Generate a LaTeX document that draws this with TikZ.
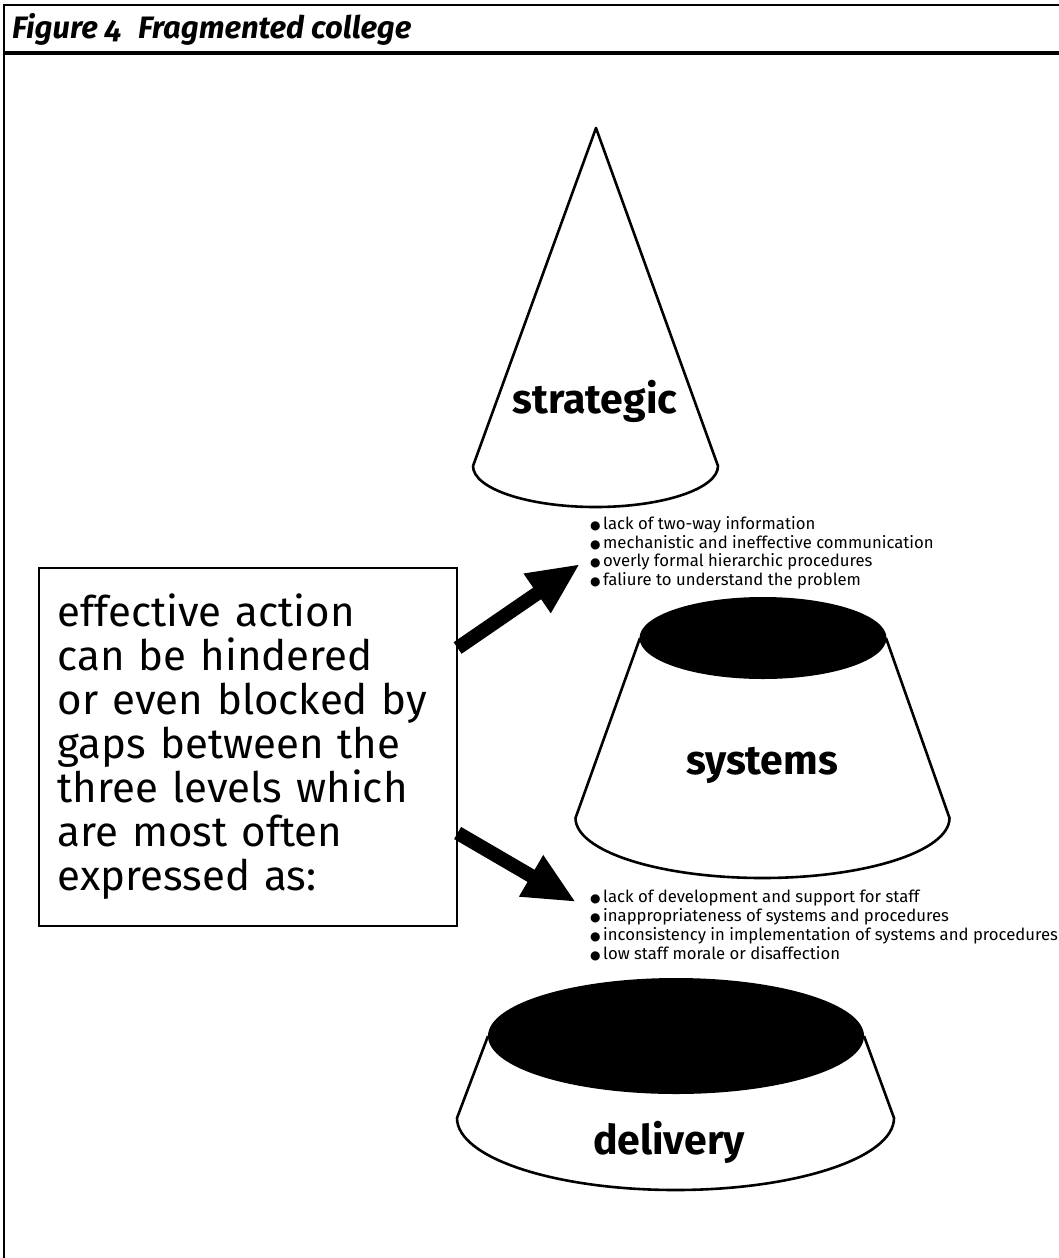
\documentclass[tikz,border=0pt]{standalone}
\usepackage{fontspec}
\setmainfont{Fira Sans}
\newfontfamily\dejavu{DejaVu Sans}
\usetikzlibrary{arrows.meta,calc}
\newcommand\blt{{\dejavu\fontsize{12}{12}\selectfont ●}\hspace{2.5pt}}
\begin{document}
\begin{tikzpicture}[x=1pt,y=-1pt,
  outline/.style={line width=2.6pt,line join=round},
  level/.style={font=\fontsize{41}{44}\selectfont\bfseries},
  gapstext/.style={draw,line width=1.6pt,align=left,text width=380pt,
    inner xsep=19pt,inner ysep=0pt,minimum height=358pt,
    font=\fontsize{42}{44}\selectfont},
  bullets/.style={align=left,inner sep=0pt,font=\fontsize{16.7}{18.8}\selectfont},
  fat/.style={line width=14pt,-{Triangle[length=52pt,width=44pt]}}]

\fill[white] (0,0) rectangle (1059,1258);
\useasboundingbox (0,0) rectangle (1059,1258);

% frame and title bar
\draw[line width=1.6pt] (1059,5) -- (4,5) -- (4,1258);
\draw[line width=3.2pt] (4,53) -- (1059,53);
\node[anchor=base west,inner sep=0pt,font=\fontsize{31}{34}\selectfont\bfseries\itshape]
  (title) at (12,38) {Figure {\addfontfeatures{Numbers=OldStyle}4}\hspace{17pt}Fragmented college};

% strategic cone
\draw[outline,fill=white] (473,466) -- (596,128) -- (718,466)
  arc[start angle=0,end angle=180,x radius=122.5,y radius=41];
\node[level,anchor=base] (strategic) at (595,413) {strategic};

% systems frustum
\draw[outline,fill=white] (640,638) -- (575.5,818)
  arc[start angle=180,end angle=0,x radius=187,y radius=60] -- (886,638);
\fill (763,638) ellipse[x radius=123.5,y radius=41];
\node[level,anchor=base] (systems) at (762,774) {systems};

% delivery frustum
\draw[outline,fill=white] (488,1036) -- (457,1118)
  arc[start angle=180,end angle=0,x radius=218.5,y radius=72] -- (864,1036);
\fill (676,1036) ellipse[x radius=188,y radius=58];
\node[level,anchor=base] (delivery) at (669,1154) {delivery};

% explanatory box
\node[gapstext,anchor=north west] (gapsbox) at (38,567)
  {effective action\\can be hindered\\or even blocked by\\gaps between the\\three levels which\\are most often\\expressed as:};

% lists of typical gaps
\node[bullets,anchor=north west] (upperlist) at (590,516)
  {\blt lack of two-way information\\
   \blt mechanistic and ineffective communication\\
   \blt overly formal hierarchic procedures\\
   \blt faliure to understand the problem};
\node[bullets,anchor=north west] (lowerlist) at (590,890)
  {\blt lack of development and support for staff\\
   \blt inappropriateness of systems and procedures\\
   \blt inconsistency in implementation of systems and procedures\\
   \blt low staff morale or disaffection};

% arrows from the box to the lists
\coordinate (uptip) at (580,564);
\coordinate (lowtip) at (576,902);
\draw[fat] ($(gapsbox.north east)+(0,81)$) -- (uptip);
\draw[fat] ($(gapsbox.north east)+(0,266)$) -- (lowtip);
\end{tikzpicture}
\end{document}
